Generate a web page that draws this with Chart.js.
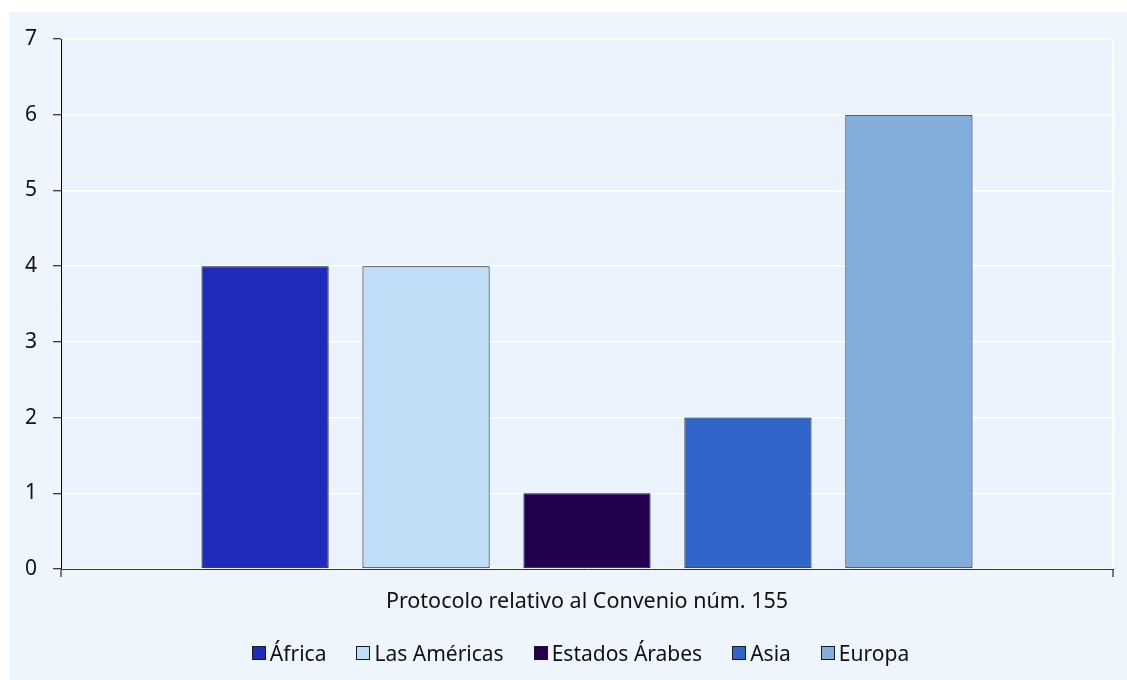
<!DOCTYPE html>
<html>
<head>
<meta charset="utf-8">
<script src="https://cdn.jsdelivr.net/npm/chart.js@4"></script>
<style>
  html, body { margin: 0; padding: 0; background: #ffffff; }
  #wrap { width: 1127px; height: 680px; position: relative; }
  #legend {
    position: absolute; left: 34px; right: 0; top: 638px;
    display: flex; justify-content: center; gap: 30px;
    font-family: 'Noto Sans', 'Open Sans', sans-serif; font-size: 21px; color: #111;
    line-height: 30px;
  }
  #legend .item { display: flex; align-items: center; }
  #legend .box {
    width: 12px; height: 12px; border: 1px solid #1a1a1a; margin-right: 4px;
  }
</style>
</head>
<body>
<div id="wrap">
  <canvas id="chart" width="1127" height="680"></canvas>
  <div id="legend"></div>
</div>
<script>
// Ratificaciones por región
const categories = ['Protocolo relativo al Convenio núm. 155'];
const regions = ['África', 'Las Américas', 'Estados Árabes', 'Asia', 'Europa'];
const counts = [4, 4, 1, 2, 6];
const regionColors = ['#1f2bba', '#c0ddf7', '#22004f', '#3164c9', '#82addb'];
const yTicks = [0, 1, 2, 3, 4, 5, 6, 7];

const FONT = "'Noto Sans', 'Open Sans', sans-serif";

// fondo del panel y del área de trazado
const backgroundPlugin = {
  id: 'panelBackground',
  beforeDraw(chart) {
    const ctx = chart.ctx;
    const a = chart.chartArea;
    ctx.save();
    ctx.fillStyle = '#eef5fc';
    ctx.fillRect(9, 12, chart.width - 9, chart.height - 12);
    ctx.fillStyle = '#eaf3fc';
    ctx.fillRect(a.left, a.top, a.right - a.left, a.bottom - a.top);
    ctx.restore();
  }
};

const chart = new Chart(document.getElementById('chart'), {
  type: 'bar',
  data: {
    labels: categories,
    datasets: regions.map((name, i) => ({
      label: name,
      data: [counts[i]],
      backgroundColor: regionColors[i],
      borderColor: '#111111',
      borderWidth: 1,
      borderSkipped: false,
      categoryPercentage: 0.765,
      barPercentage: 0.79
    }))
  },
  options: {
    responsive: false,
    animation: false,
    layout: {
      padding: { left: 9, right: 14, top: 39, bottom: 61 }
    },
    scales: {
      x: {
        afterFit(scale) {
          scale.height = 50;
        },
        grid: {
          display: true,
          offset: true,
          color: '#ffffff',
          lineWidth: 2,
          tickColor: '#000000',
          tickLength: 8,
          tickWidth: 1
        },
        border: { display: true, color: '#333333', width: 1 },
        ticks: {
          color: '#111111',
          font: { family: FONT, size: 21.5 },
          padding: 12
        }
      },
      y: {
        min: 0,
        max: 7,
        afterBuildTicks(scale) {
          scale.ticks = yTicks.map(v => ({ value: v }));
        },
        afterFit(scale) {
          scale.width = 52;
        },
        grid: {
          color: '#ffffff',
          lineWidth: 1.5,
          tickColor: '#000000',
          tickLength: 8,
          tickWidth: 1
        },
        border: { display: true, color: '#000000', width: 1 },
        ticks: {
          color: '#111111',
          font: { family: FONT, size: 21 },
          padding: 16
        }
      }
    },
    plugins: {
      legend: { display: false },
      tooltip: { enabled: false }
    }
  },
  plugins: [backgroundPlugin]
});

// leyenda en HTML con los mismos colores de los datasets
document.getElementById('legend').innerHTML = chart.data.datasets.map(ds => `
  <span class="item"><span class="box" style="background:${ds.backgroundColor}"></span>${ds.label}</span>
`).join('');
</script>
</body>
</html>
